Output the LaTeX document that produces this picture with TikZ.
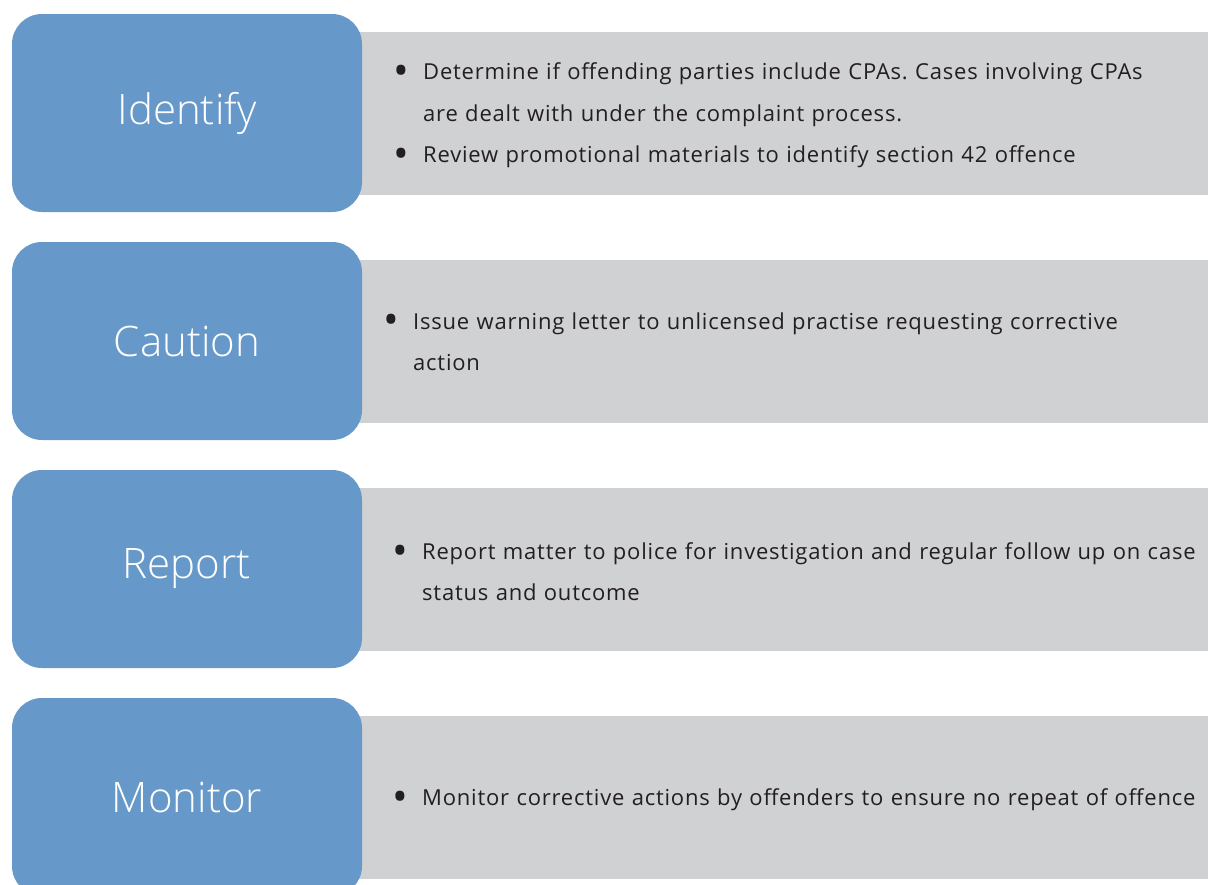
\documentclass[tikz,border=0pt]{standalone}
\usepackage{fontspec}
\setmainfont{Open Sans}
\newfontfamily\stagefont{Open Sans Light}
\newfontfamily\notefont{Open Sans}[LetterSpace=3.6]
\usetikzlibrary{positioning}

% Colors for the boxes
\definecolor{stageblue}{RGB}{102,153,201}
\definecolor{notegray}{RGB}{208,209,211}
\definecolor{notetext}{RGB}{35,31,32}

% bullet hanging in the left margin of a note
\newcommand{\bitem}{\noindent\llap{\makebox[30pt][l]{\raisebox{-0.27em}{\scalebox{1.9}{\textbullet}}}}}
\newcommand{\notestart}{\leftskip=30pt\relax\frenchspacing}

\tikzset{
    stagebox/.style={fill=stageblue, rounded corners=30pt, minimum width=350pt,
        minimum height=198pt, inner sep=0pt, text=white,
        font=\stagefont\fontsize{42}{48}\selectfont},
    notebox/.style={fill=notegray, minimum width=868pt, minimum height=163pt, inner sep=0pt},
    notelist/.style={anchor=west, text width=840pt, align=left, inner sep=0pt,
        text=notetext, font=\notefont\fontsize{22}{41.5}\selectfont}
}

\begin{document}
\begin{tikzpicture}[x=1pt, y=-1pt]

    \clip (0,0) rectangle (1208,884);
    \fill[white] (0,0) rectangle (1208,884);

    % Identify row
    \node[notebox] (identifybg) at (774,113.5) {};
    \node[stagebox] (identify) at (187,113) {Identify};
    \node[notelist] (identifytxt) at (393,116) {\notestart
        \bitem Determine if offending parties include CPAs. Cases involving CPAs\\
        are dealt with under the complaint process.\par
        \bitem Review promotional materials to identify section 42 offence\par};

    % Caution row
    \node[notebox] (cautionbg) at (774,341.5) {};
    \node[stagebox] (caution) at (187,341) {Caution};
    \node[notelist] (cautiontxt) at (383,341.5) {\notestart
        \bitem Issue warning letter to unlicensed practise requesting corrective\\
        action\par};

    % Report row
    \node[notebox] (reportbg) at (774,569.5) {};
    \node[stagebox] (report) at (187,569) {Report};
    \node[notelist] (reporttxt) at (392,571.5) {\notestart
        \bitem Report matter to police for investigation and regular follow up on case\\
        status and outcome\par};

    % Monitor row
    \node[notebox] (monitorbg) at (774,797.5) {};
    \node[stagebox] (monitor) at (187,797) {Monitor};
    \node[notelist] (monitortxt) at (392,800) {\notestart
        \bitem Monitor corrective actions by offenders to ensure no repeat of offence\par};

\end{tikzpicture}
\end{document}
